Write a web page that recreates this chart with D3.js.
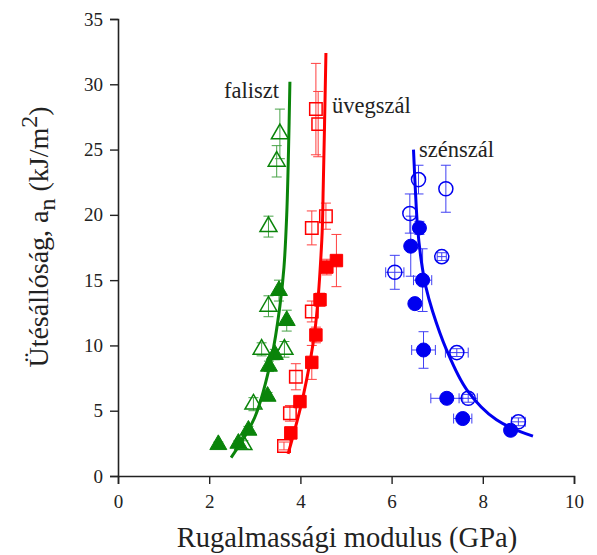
<!DOCTYPE html>
<html>
<head>
<meta charset="utf-8">
<script src="https://cdn.jsdelivr.net/npm/d3@7"></script>
</head>
<body style="margin:0; background:#fff">
<svg id="chart" width="597" height="555"></svg>
<script>
// faliszt (green triangles)
const falisztOpenX = [3.55, 3.48, 3.30, 3.30, 3.15, 3.65, 2.97, 2.75]
const falisztOpenY = [26.2, 24.1, 19.1, 13.0, 9.7, 9.7, 5.5, 2.4]
const falisztOpenErr = [1.9, 1.2, 0.8, 0.8, 0.5, 0.6, 0.5, 0.3]
const falisztFillX = [3.53, 3.70, 3.44, 3.31, 3.28, 2.86, 2.64, 2.20]
const falisztFillY = [14.2, 11.9, 9.3, 8.4, 6.1, 3.5, 2.5, 2.4]
const falisztFillErr = [0.8, 0.8, 0.4, 0.4, 0.3, 0.3, 0.2, 0.2]
const falisztFitX = [2.48, 3.0, 3.37, 3.55, 3.64, 3.70, 3.74, 3.77]
const falisztFitY = [1.4, 4.5, 9.1, 13, 16, 20, 25, 30.2]

// üvegszál (red squares)
const uvegOpenX = [4.34, 4.39, 4.25, 4.56, 4.25, 3.90, 3.77, 3.64]
const uvegOpenY = [28.1, 26.95, 19.0, 19.9, 12.6, 7.6, 4.8, 2.3]
const uvegOpenErr = [3.5, 2.5, 1.3, 1.0, 0.8, 1.0, 0.6, 0.3]
const uvegFillX = [4.79, 4.58, 4.43, 4.34, 4.25, 3.99, 3.79]
const uvegFillY = [16.5, 16.0, 13.5, 10.8, 8.7, 5.7, 3.3]
const uvegFillErr = [2.0, 0.6, 0.5, 0.6, 1.3, 0.4, 0.3]
const uvegFitX = [3.73, 4.06, 4.32, 4.47, 4.50, 4.53, 4.56]
const uvegFitY = [1.7, 6.1, 11.2, 18.1, 22, 27, 32.4]

// szénszál (blue circles)
const szenOpenX = [6.59, 7.19, 6.40, 7.10, 6.07, 7.43, 7.68, 8.78]
const szenOpenY = [22.7, 22.0, 20.1, 16.8, 15.6, 9.45, 5.95, 4.15]
const szenOpenErr = [1.1, 1.8, 1.5, 0.3, 1.3, 0.3, 0.3, 0.3]
const szenOpenXErr = [0, 0, 0, 0.1, 0.2, 0.25, 0.2, 0.15]
const szenFillX = [6.61, 6.42, 6.68, 6.51, 6.70, 7.21, 7.56, 8.61]
const szenFillY = [19.0, 17.6, 15.0, 13.2, 9.65, 5.95, 4.4, 3.5]
const szenFillErr = [0.5, 2.3, 2.4, 0.3, 1.4, 0.3, 0.3, 0.3]
const szenFillXErr = [0, 0, 0.2, 0, 0.26, 0.35, 0.2, 0.1]
const szenFitX = [6.48, 6.52, 6.57, 6.65, 6.75, 6.9, 7.2, 7.65, 8.3, 9.1]
const szenFitY = [25, 22, 19, 16.5, 14.5, 12.6, 9.7, 6.6, 4.3, 3.05]

const xTicks = [0, 2, 4, 6, 8, 10]
const yTicks = [0, 5, 10, 15, 20, 25, 30, 35]

const GREEN = "#0a840a", RED = "#ff0000", BLUE = "#0000f0"
const FONT = "Liberation Serif"

const svg = d3.select("#chart")
const x = d3.scaleLinear().domain([0, 10]).range([118, 574])
const y = d3.scaleLinear().domain([0, 35]).range([476, 19])

// axes
const xAxis = svg.append("g").attr("transform", "translate(0,476)")
  .call(d3.axisBottom(x).tickValues(xTicks).tickSize(8).tickPadding(11).tickFormat(d3.format("d")))
const yAxis = svg.append("g").attr("transform", "translate(118,0)")
  .call(d3.axisLeft(y).tickValues(yTicks).tickSize(8).tickPadding(7).tickFormat(d3.format("d")))
;[xAxis, yAxis].forEach(a => {
  a.attr("font-family", null).attr("font-size", null)
  a.select(".domain").attr("stroke", "#222").attr("stroke-width", 1.6)
  a.selectAll(".tick line").attr("stroke", "#222").attr("stroke-width", 1.4)
  a.selectAll(".tick text").attr("fill", "#222")
    .style("font-family", FONT).style("font-size", "19px")
})

function zip(xs, ys, es, xes) {
  return xs.map((v, i) => ({ x: v, y: ys[i], e: es[i], xe: xes ? xes[i] : 0 }))
}

function errorBars(data, color) {
  const g = svg.append("g").attr("stroke", color).attr("stroke-width", 1).attr("opacity", 0.75)
  data.forEach(d => {
    if (d.e > 0) {
      g.append("line").attr("x1", x(d.x)).attr("x2", x(d.x)).attr("y1", y(d.y - d.e)).attr("y2", y(d.y + d.e))
      ;[d.y - d.e, d.y + d.e].forEach(v => g.append("line")
        .attr("x1", x(d.x) - 5).attr("x2", x(d.x) + 5).attr("y1", y(v)).attr("y2", y(v)))
    }
    if (d.xe > 0) {
      g.append("line").attr("x1", x(d.x - d.xe)).attr("x2", x(d.x + d.xe)).attr("y1", y(d.y)).attr("y2", y(d.y))
      ;[d.x - d.xe, d.x + d.xe].forEach(v => g.append("line")
        .attr("x1", x(v)).attr("x2", x(v)).attr("y1", y(d.y) - 5).attr("y2", y(d.y) + 5))
    }
  })
}

function markers(data, type, size, color, filled) {
  svg.append("g").selectAll("path")
    .data(data)
    .enter()
    .append("path")
    .attr("d", d3.symbol().type(type).size(size))
    .attr("transform", d => `translate(${x(d.x)},${y(d.y)})`)
    .attr("fill", filled ? color : "none")
    .attr("stroke", color)
    .attr("stroke-width", filled ? 1 : 1.5)
}

function fitLine(xs, ys, color) {
  svg.append("path")
    .datum(xs.map((v, i) => [v, ys[i]]))
    .attr("d", d3.line().x(d => x(d[0])).y(d => y(d[1])).curve(d3.curveCatmullRom))
    .attr("fill", "none")
    .attr("stroke", color)
    .attr("stroke-width", 3)
}

const series = [
  { open: zip(falisztOpenX, falisztOpenY, falisztOpenErr), fill: zip(falisztFillX, falisztFillY, falisztFillErr),
    fx: falisztFitX, fy: falisztFitY, type: d3.symbolTriangle, size: 125, color: GREEN },
  { open: zip(uvegOpenX, uvegOpenY, uvegOpenErr), fill: zip(uvegFillX, uvegFillY, uvegFillErr),
    fx: uvegFitX, fy: uvegFitY, type: d3.symbolSquare, size: 155, color: RED },
  { open: zip(szenOpenX, szenOpenY, szenOpenErr, szenOpenXErr), fill: zip(szenFillX, szenFillY, szenFillErr, szenFillXErr),
    fx: szenFitX, fy: szenFitY, type: d3.symbolCircle, size: 155, color: BLUE }
]

series.forEach(s => {
  errorBars(s.open, s.color)
  errorBars(s.fill, s.color)
  markers(s.open, s.type, s.size, s.color, false)
  markers(s.fill, s.type, s.size, s.color, true)
  fitLine(s.fx, s.fy, s.color)
})

// series labels
const labels = [
  { text: "faliszt", x: 224, y: 98 },
  { text: "üvegszál", x: 332, y: 113 },
  { text: "szénszál", x: 419, y: 157 }
]
svg.selectAll(".lbl").data(labels).enter().append("text")
  .attr("class", "lbl")
  .attr("x", d => d.x).attr("y", d => d.y)
  .attr("fill", "#222")
  .style("font-family", FONT)
  .style("font-size", "22.5px")
  .text(d => d.text)

// axis titles
svg.append("text")
  .attr("x", 347).attr("y", 547)
  .attr("text-anchor", "middle")
  .attr("fill", "#222")
  .style("font-family", FONT)
  .style("font-size", "28.5px")
  .text("Rugalmassági modulus (GPa)")

const yt = svg.append("text")
  .attr("transform", "translate(48,237) rotate(-90)")
  .attr("text-anchor", "middle")
  .attr("fill", "#222")
  .style("font-family", FONT)
  .style("font-size", "28px")
yt.append("tspan").text("Ütésállóság, a")
yt.append("tspan").attr("dy", 7).style("font-size", "24px").text("n")
yt.append("tspan").attr("dy", -7).text(" (kJ/m")
yt.append("tspan").attr("dy", -11).style("font-size", "24px").text("2")
yt.append("tspan").attr("dy", 11).text(")")
</script>
</body>
</html>
